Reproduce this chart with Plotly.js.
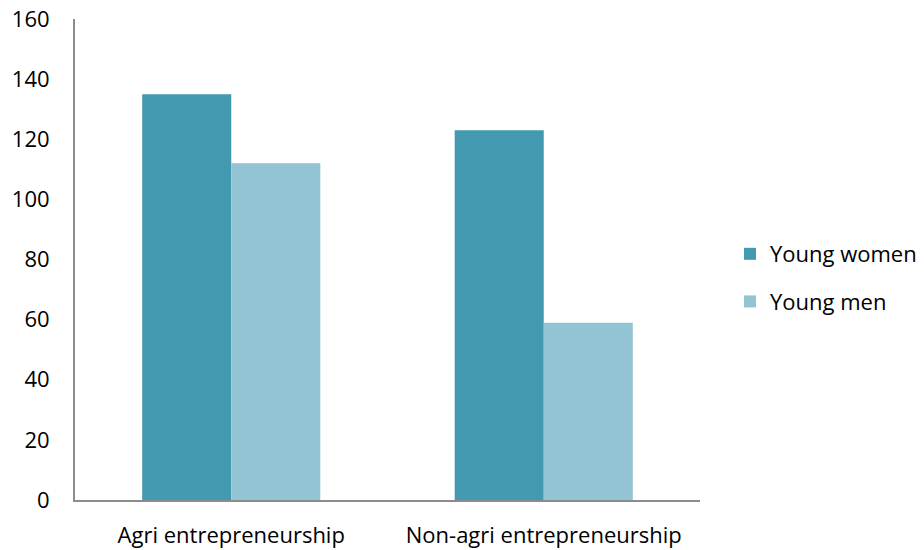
<!DOCTYPE html>
<html><head><meta charset="utf-8">
<script src="https://cdn.plot.ly/plotly-3.0.1.min.js"></script>
<style>html,body{margin:0;padding:0;background:#fff}#chart{width:924px;height:550px}</style>
</head><body><div id="chart"></div>
<script>
var categories = ["Agri entrepreneurship", "Non-agri entrepreneurship"];
var youngWomen = [135, 123];
var youngMen = [112, 59];
var seriesNames = ["Young women", "Young men"];
var tickValues = [0, 20, 40, 60, 80, 100, 120, 140, 160];

var traces = [
  {type: "bar", name: seriesNames[0], legendgroup: "a", x: categories, y: youngWomen, marker: {color: "#4399B0"}},
  {type: "bar", name: seriesNames[1], legendgroup: "b", x: categories, y: youngMen, marker: {color: "#93C4D4"}}
];
var layout = {
  width: 924, height: 550,
  margin: {l: 75, r: 224, t: 19, b: 50, autoexpand: false},
  paper_bgcolor: "#fff", plot_bgcolor: "#fff",
  font: {family: "'Open Sans', sans-serif", size: 22, color: "#000"},
  barmode: "group", bargap: 0.43, bargroupgap: 0,
  showlegend: true,
  legend: {x: 1.048, xanchor: "left", y: 0.4615, yanchor: "middle", font: {size: 22}, itemwidth: 30,
           traceorder: "grouped", tracegroupgap: 16},
  xaxis: {showline: true, linecolor: "#8c8c8c", linewidth: 2, ticks: "", showgrid: false, zeroline: false, ticklabelstandoff: 15},
  yaxis: {range: [0, 160], tickvals: tickValues, showline: true, linecolor: "#8c8c8c", linewidth: 2, ticks: "", showgrid: false, zeroline: false, ticklabelstandoff: 19}
};
Plotly.newPlot("chart", traces, layout, {displayModeBar: false});
</script></body></html>
